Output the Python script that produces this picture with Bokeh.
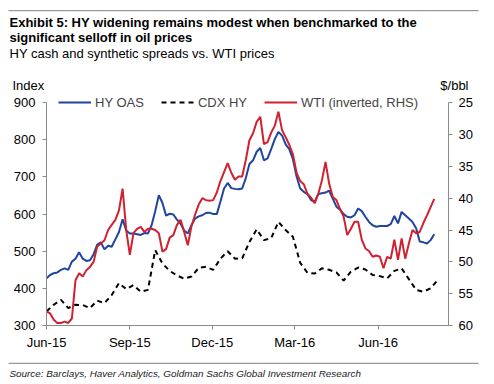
import pandas as pd
from bokeh.plotting import figure
from bokeh.layouts import column, row
from bokeh.models import (Range1d, LinearAxis, FixedTicker, Label, Legend, LegendItem,
                          BoxAnnotation, DatetimeTickFormatter)
from bokeh.embed import file_html
from bokeh.resources import INLINE

# ---------------- data ----------------
hy_start = "2015-06-01"          # HY OAS and WTI sampled every 4 days
hy_oas = [
    427, 436, 441, 443, 450, 454, 450, 472, 480, 497,
    480, 474, 476, 492, 518, 524, 505, 515, 512, 532,
    552, 586, 556, 548, 548, 546, 544, 549, 548, 570,
    608, 651, 630, 596, 601, 599, 585, 574, 556, 548,
    570, 588, 594, 597, 603, 604, 600, 600, 634, 669,
    684, 670, 668, 667, 669, 697, 735, 745, 768, 778,
    745, 750, 775, 802, 821, 812, 788, 775, 748, 702,
    669, 660, 654, 638, 633, 654, 656, 658, 663, 642,
    620, 612, 600, 593, 591, 597, 615, 608, 593, 579,
    570, 566, 568, 568, 568, 573, 595, 575, 606, 597,
    588, 579, 562, 526, 524, 521, 530, 546,
]
wti = [
    57.8, 58.1, 59.1, 59.6, 59.6, 59.4, 59.6, 58.9, 52.9, 51.8,
    52.3, 51.3, 50.8, 50.0, 47.6, 47.1, 46.6, 45.0, 44.2, 43.4,
    41.9, 38.5, 45.0, 48.9, 45.5, 44.8, 44.5, 45.3, 44.8, 44.8,
    45.0, 45.5, 48.4, 48.0, 46.2, 45.8, 44.2, 43.4, 45.3, 47.4,
    44.4, 42.6, 41.0, 40.0, 40.3, 40.4, 40.3, 39.1, 37.3, 35.9,
    34.5, 36.0, 37.1, 36.6, 36.6, 34.0, 30.9, 29.8, 28.0, 27.2,
    31.5, 31.2, 29.7, 28.6, 26.4, 29.3, 30.4, 31.6, 33.1, 36.0,
    37.3, 37.8, 39.3, 39.9, 40.8, 39.3, 37.2, 34.3, 37.7, 39.8,
    40.3, 41.7, 42.9, 45.8, 44.8, 43.7, 43.7, 46.5, 47.9, 48.3,
    49.2, 49.0, 49.2, 51.0, 49.2, 49.5, 46.5, 49.7, 46.3, 49.5,
    47.1, 45.0, 45.5, 45.3, 43.9, 42.7, 41.4, 40.1,
]
cdx_start = "2015-06-01"         # CDX HY sampled every 8 days
cdx_hy = [
    338, 356, 369, 347, 356, 355, 347, 367, 360, 382,
    414, 398, 409, 391, 396, 503, 467, 447, 435, 426,
    432, 455, 458, 450, 480, 500, 480, 481, 525, 559,
    530, 535, 579, 557, 539, 469, 442, 440, 454, 450,
    443, 421, 445, 456, 451, 436, 433, 427, 447, 454,
    425, 396, 391, 400, 423,
]
series_names = ["HY OAS", "CDX HY", "WTI (inverted, RHS)"]
x_tick_dates = ["2015-06-01", "2015-09-01", "2015-12-01", "2016-03-01", "2016-06-01"]
x_tick_labels = ["Jun-15", "Sep-15", "Dec-15", "Mar-16", "Jun-16"]
left_ticks = [300, 400, 500, 600, 700, 800, 900]
right_ticks = [25, 30, 35, 40, 45, 50, 55, 60]
x_start, x_end = "2015-06-01", "2016-08-17 18:00"

title_1 = "Exhibit 5: HY widening remains modest when benchmarked to the"
title_2 = "significant selloff in oil prices"
subtitle = "HY cash and synthetic spreads vs. WTI prices"
left_unit = "Index"
right_unit = "$/bbl"
source = "Source: Barclays, Haver Analytics, Goldman Sachs Global Investment Research"

# ---------------- styling ----------------
W = 494
TOP_H, MAIN_H, BOT_H = 92, 260, 32
FONT = "Liberation Sans"
BLUE, RED, AXIS, RULE = "#1f459e", "#d1202f", "#8a8a8a", "#9a9a9a"


def text_panel(height, y_top):
    """A figure without axes whose data units are page pixels (y grows downward)."""
    f = figure(width=W, height=height, x_range=Range1d(0, W),
               y_range=Range1d(y_top + height, y_top),
               output_backend="svg", toolbar_location=None, title=None,
               x_axis_location=None, y_axis_location=None, min_border=0)
    f.outline_line_color = None
    f.grid.visible = False
    return f


def add_text(f, txt, x, y, size, style="normal", align="left", color="black"):
    f.add_layout(Label(x=x, y=y, text=txt, text_font=FONT, text_font_size=size,
                       text_font_style=style, text_align=align,
                       text_baseline="alphabetic", text_color=color))


def add_rule(f, y):
    f.add_layout(BoxAnnotation(left=8, right=478, top=y, bottom=y + 1.2,
                               fill_color=RULE, fill_alpha=1, line_color=None))


# ---------------- header ----------------
top = text_panel(TOP_H, 0)
add_rule(top, 9.5)
add_text(top, title_1, 9, 21.7, "13px", "bold")
add_text(top, title_2, 9, 36.5, "13px", "bold")
add_text(top, subtitle, 9, 52.5, "13px")
add_text(top, left_unit, 12, 85, "13px")
add_text(top, right_unit, 468, 85, "13px", align="right")

# ---------------- main chart ----------------
dates4 = pd.date_range(hy_start, periods=len(hy_oas), freq="4D")
dates8 = pd.date_range(cdx_start, periods=len(cdx_hy), freq="8D")

p = figure(width=W, height=MAIN_H, x_axis_type="datetime",
           x_range=Range1d(pd.Timestamp(x_start), pd.Timestamp(x_end)),
           y_range=Range1d(300, 927.6),
           output_backend="svg", toolbar_location=None, title=None,
           min_border_left=46, min_border_right=46,
           min_border_top=0, min_border_bottom=26)
p.outline_line_color = None
p.grid.visible = False

p.extra_y_ranges = {"wti": Range1d(start=60, end=23.39)}
raxis = LinearAxis(y_range_name="wti", ticker=FixedTicker(ticks=right_ticks))
p.add_layout(raxis, "right")

tick_ms = [int(pd.Timestamp(d).value // 10**6) for d in x_tick_dates]
p.xaxis.ticker = FixedTicker(ticks=tick_ms)
p.xaxis.formatter = DatetimeTickFormatter(years="%b-%y", months="%b-%y", days="%b-%y",
                                          hours="%b-%y", minutes="%b-%y")
p.xaxis.major_label_overrides = {t: lab for t, lab in zip(tick_ms, x_tick_labels)}
p.yaxis[0].ticker = FixedTicker(ticks=left_ticks)
p.yaxis[0].bounds = (left_ticks[0], left_ticks[-1])
raxis.bounds = (right_ticks[0], right_ticks[-1])

for ax in [p.xaxis[0], p.yaxis[0], raxis]:
    ax.axis_line_color = AXIS
    ax.major_tick_line_color = AXIS
    ax.minor_tick_line_color = None
    ax.major_tick_out = 4
    ax.major_tick_in = 0
    ax.major_label_text_font = FONT
    ax.major_label_text_font_size = "13px"
    ax.major_label_text_color = "black"
p.yaxis[0].major_label_standoff = 7
raxis.major_label_standoff = 6
p.xaxis[0].major_label_standoff = 5

hy = p.line(dates4, hy_oas, line_color=BLUE, line_width=2)
cdx = p.line(dates8, cdx_hy, line_color="black", line_width=2, line_dash="5 4")
wt = p.line(dates4, wti, line_color=RED, line_width=2, y_range_name="wti")

legend = Legend(items=[LegendItem(label=series_names[0], renderers=[hy]),
                       LegendItem(label=series_names[1], renderers=[cdx]),
                       LegendItem(label=series_names[2], renderers=[wt])],
                orientation="horizontal", location=(12, 213),
                glyph_width=33, glyph_height=20, label_standoff=4, spacing=17,
                padding=0, margin=0,
                label_text_font=FONT, label_text_font_size="13px",
                background_fill_alpha=0, border_line_alpha=0)
p.add_layout(legend)

# ---------------- footer ----------------
bot = text_panel(BOT_H, TOP_H + MAIN_H)
add_rule(bot, 362.2)
add_text(bot, source, 9, 373, "9.9px", "italic", color="#222222")

# wrapping the text panels keeps their frames independent of the chart's frame
page = column(row(top, spacing=0), p, row(bot, spacing=0), spacing=0)
open("out.html", "w").write(file_html(page, INLINE))
